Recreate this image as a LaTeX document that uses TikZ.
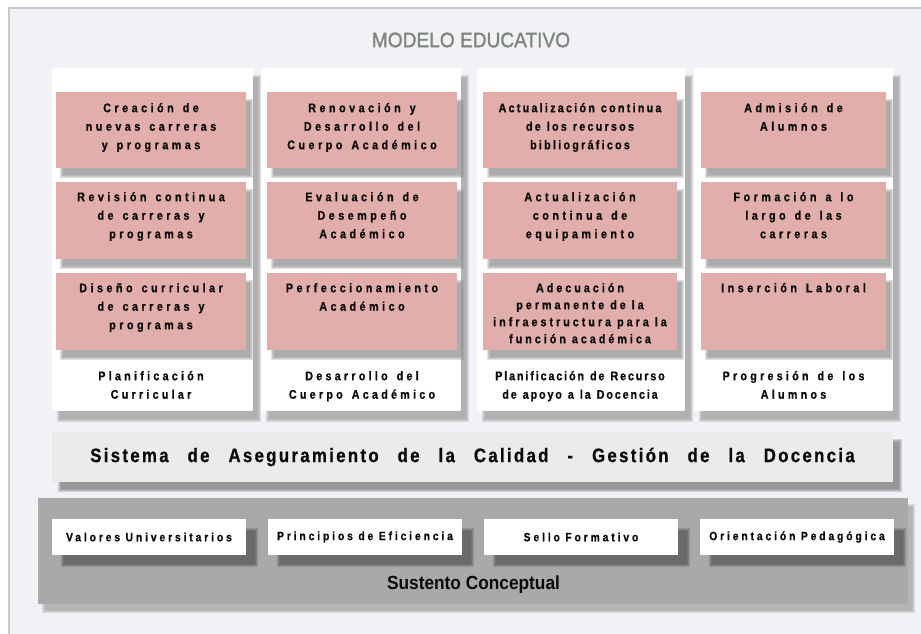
\documentclass[tikz,border=0pt]{standalone}
\usepackage{fontspec}
\setmainfont{Liberation Sans}
\pgfdeclarelayer{bg0}\pgfdeclarelayer{sh1}\pgfdeclarelayer{sh2}\pgfdeclarelayer{fg}
\pgfsetlayers{bg0,sh1,main,sh2,fg}
\definecolor{framebg}{HTML}{F2F2F6}
\definecolor{frameline}{HTML}{C8C8CC}
\definecolor{pinkbox}{HTML}{E2AEAB}
\definecolor{bandgray}{HTML}{EBEBEB}
\definecolor{basegray}{HTML}{A9A9A9}
\definecolor{titlegray}{HTML}{7E857E}
\definecolor{txt}{HTML}{0A0A0A}
\definecolor{colsh}{HTML}{969696}
\definecolor{pinksh}{HTML}{888888}
\definecolor{bandsh}{HTML}{707070}
\definecolor{basesh}{HTML}{9A9A9A}
\definecolor{whitesh}{HTML}{505050}
\newcommand\BX[6]{\node[#6, inner sep=0pt, outer sep=0pt, anchor=north west, minimum width={(#4)-(#2)}, minimum height={(#5)-(#3)}] (#1) at (#2,#3) {};}
\newcommand\SoftShadow[4]{\foreach \k in {0,1,2,3}{\fill[#4, opacity=0.25] ([shift={(#2-1.5+\k,#3-1.5+\k)}]#1.north west) rectangle ([shift={(#2+1.5-\k,#3+1.5-\k)}]#1.south east);}}
\newcommand\ws{\spaceskip=9pt\relax}
\newcommand\wsb{\spaceskip=6pt\relax}
\newcommand\topstrut{\ws\rule{0pt}{13pt}}
\newcommand\topstrutb{\wsb\rule{0pt}{13pt}}
\begin{document}
\begin{tikzpicture}[x=1pt, y=-1pt,
  txtbase/.style={inner sep=0pt, text=txt, align=center},
  pt/.style={txtbase, anchor=north, font=\fontsize{12.5}{18.5}\selectfont\bfseries\addfontfeature{FakeStretch=0.86,FakeBold=0.8,LetterSpace=#1}},
  pt/.default=28,
  wt/.style={txtbase, font=\fontsize{12}{13}\selectfont\bfseries\addfontfeature{FakeStretch=0.86,FakeBold=0.8,LetterSpace=24}},
  colbox/.style={fill=white},
  pinkb/.style={fill=pinkbox},
  whiteb/.style={fill=white}]
\useasboundingbox (0,0) rectangle (921,634);
\begin{pgfonlayer}{bg0}
  \fill[framebg] (9,8) rectangle (921,634);
  \draw[frameline, line width=1.2pt] (9,634) -- (9,8) -- (921,8);
\end{pgfonlayer}
% title
\node[font=\fontsize{21}{21}\selectfont\addfontfeature{FakeBold=1.5}, text=titlegray, inner sep=0pt] (title) at (471,40) {\scalebox{0.91}[1]{MODELO EDUCATIVO}};
% columns
\BX{c1}{52}{68}{253}{411}{colbox}
\BX{c2}{261}{68}{461}{411}{colbox}
\BX{c3}{477}{68}{685}{411}{colbox}
\BX{c4}{694}{68}{893}{411}{colbox}
% band and base
\BX{band}{52}{432}{893}{482}{fill=bandgray}
\BX{base}{38}{498}{908}{604}{fill=basegray}
\begin{pgfonlayer}{fg}
\BX{p11}{56}{92}{246}{168}{pinkb}
\BX{p12}{56}{182}{246}{259}{pinkb}
\BX{p13}{56}{273}{246}{350}{pinkb}
\BX{p21}{267}{92}{457}{168}{pinkb}
\BX{p22}{267}{182}{457}{259}{pinkb}
\BX{p23}{267}{273}{457}{350}{pinkb}
\BX{p31}{483}{92}{677}{168}{pinkb}
\BX{p32}{483}{182}{677}{259}{pinkb}
\BX{p33}{483}{273}{677}{350}{pinkb}
\BX{p41}{701}{92}{886}{168}{pinkb}
\BX{p42}{701}{182}{886}{259}{pinkb}
\BX{p43}{701}{273}{886}{350}{pinkb}
\BX{w1}{52}{519}{246}{555}{whiteb}
\BX{w2}{268}{519}{462}{555}{whiteb}
\BX{w3}{484}{519}{678}{555}{whiteb}
\BX{w4}{700}{519}{894}{555}{whiteb}
% pink texts
\node[pt] (p11t) at ([yshift=-7pt]p11.north) {\topstrut Creación de\\\ws nuevas carreras\\\ws y programas};
\node[pt] (p12t) at ([yshift=-6pt]p12.north) {\topstrut Revisión continua\\\ws de carreras y\\programas};
\node[pt] (p13t) at ([yshift=-6pt]p13.north) {\topstrut Diseño curricular\\\ws de carreras y\\programas};
\node[pt] (p21t) at ([yshift=-7pt]p21.north) {\topstrut Renovación y\\\ws Desarrollo del\\\ws Cuerpo Académico};
\node[pt] (p22t) at ([yshift=-6pt]p22.north) {\topstrut Evaluación de\\Desempeño\\Académico};
\node[pt] (p23t) at ([yshift=-6pt]p23.north) {\topstrut Perfeccionamiento\\Académico};
\node[pt=18] (p31t) at ([yshift=-7pt]p31.north) {\topstrutb Actualización continua\\\wsb de los recursos\\bibliográficos};
\node[pt] (p32t) at ([yshift=-6pt]p32.north) {\topstrut Actualización\\\ws continua de\\equipamiento};
\node[txtbase, anchor=north, font=\fontsize{12.5}{17}\selectfont\bfseries\addfontfeature{FakeStretch=0.86,FakeBold=0.8,LetterSpace=24}] (p33t) at ([yshift=-6pt]p33.north) {\topstrutb Adecuación\\\wsb permanente de la\\\wsb infraestructura para la\\\wsb función académica};
\node[pt] (p41t) at ([yshift=-7pt]p41.north) {\topstrut Admisión de\\Alumnos};
\node[pt] (p42t) at ([yshift=-6pt]p42.north) {\topstrut Formación a lo\\\ws largo de las\\carreras};
\node[pt] (p43t) at ([yshift=-6pt]p43.north) {\topstrut Inserción Laboral};
% column labels
\node[pt=26] (l1) at ([yshift=-17pt]p13.south) {\topstrut Planificación\\Curricular};
\node[pt=26] (l2) at ([yshift=-17pt]p23.south) {\topstrut Desarrollo del\\\ws Cuerpo Académico};
\node[pt=15] (l3) at ([yshift=-17pt]p33.south) {\topstrutb Planificación de Recurso\\\wsb de apoyo a la Docencia};
\node[pt=26] (l4) at ([yshift=-17pt]p43.south) {\topstrut Progresión de los\\Alumnos};
% band text
\node[txtbase, font=\fontsize{19.5}{19.5}\selectfont\bfseries\addfontfeature{FakeStretch=0.86,FakeBold=0.8,LetterSpace=12}] (bandt) at (band.center) {\spaceskip=19pt\relax Sistema de Aseguramiento de la Calidad - Gestión de la Docencia};
% white box texts
\node[wt] (w1t) at (w1.center) {\spaceskip=5.5pt\relax Valores Universitarios};
\node[wt] (w2t) at (w2.center) {\spaceskip=5.5pt\relax Principios de Eficiencia};
\node[wt] (w3t) at (w3.center) {\spaceskip=5.5pt\relax Sello Formativo};
\node[wt] (w4t) at (w4.center) {\spaceskip=5.5pt\relax Orientación Pedagógica};
\node[font=\fontsize{19}{19}\selectfont\bfseries\addfontfeature{FakeStretch=0.91}, text=txt, inner sep=0pt] (sust) at (473.5,585) {Sustento Conceptual};
\end{pgfonlayer}
\begin{pgfonlayer}{sh1}
  \SoftShadow{c1}{6}{9}{colsh}
  \SoftShadow{c2}{6}{9}{colsh}
  \SoftShadow{c3}{6}{9}{colsh}
  \SoftShadow{c4}{6}{9}{colsh}
  \SoftShadow{band}{7}{8}{bandsh}
  \SoftShadow{base}{5}{7}{basesh}
\end{pgfonlayer}
\begin{pgfonlayer}{sh2}
  \foreach \n in {p11,p12,p13,p21,p22,p23,p31,p32,p33,p41,p42,p43}{\SoftShadow{\n}{5}{8}{pinksh}}
  \foreach \n in {w1,w2,w3,w4}{\SoftShadow{\n}{10}{10}{whitesh}}
\end{pgfonlayer}
\end{tikzpicture}
\end{document}
